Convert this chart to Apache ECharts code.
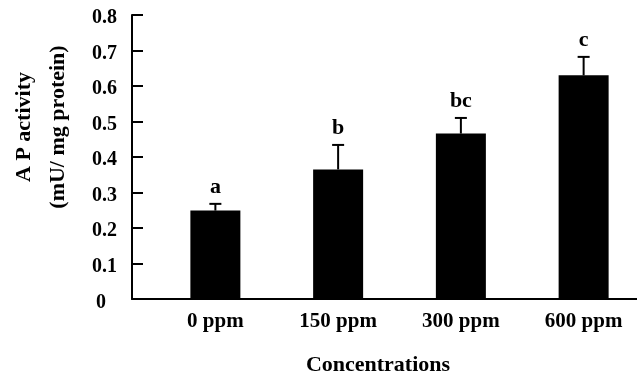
<!DOCTYPE html>
<html>
<head>
<meta charset="utf-8">
<script src="https://cdn.jsdelivr.net/npm/echarts@6/dist/echarts.min.js"></script>
<style>
    html, body { margin: 0; padding: 0; background: #fff; }
    #main { width: 637px; height: 376px; }
</style>
</head>
<body>
<div id="main"></div>
<script>
// data
var categories = ['0 ppm', '150 ppm', '300 ppm', '600 ppm'];
var means = [0.249, 0.365, 0.466, 0.630];
var errors = [0.019, 0.069, 0.044, 0.052];
var letters = ['a', 'b', 'bc', 'c'];

var serif = '"Liberation Serif", "Times New Roman", serif';

var chart = echarts.init(document.getElementById('main'));

var option = {
    animation: false,
    backgroundColor: '#fff',
    grid: [
        { left: 154, right: -8, top: 15, bottom: 77, outerBoundsMode: 'none' },
        { left: 132, right: 0, top: 15, bottom: 77, outerBoundsMode: 'none' }
    ],
    xAxis: [
        {
            type: 'category',
            gridIndex: 0,
            data: categories,
            axisLine: { show: false },
            axisTick: { show: false },
            axisLabel: {
                margin: 12,
                color: '#000',
                fontFamily: serif,
                fontWeight: 'bold',
                fontSize: 21
            }
        },
        {
            type: 'value',
            gridIndex: 1,
            min: 0,
            max: 1,
            name: 'Concentrations',
            nameLocation: 'middle',
            nameGap: 55,
            nameTextStyle: {
                color: '#000',
                fontFamily: serif,
                fontWeight: 'bold',
                fontSize: 22,
                padding: [0, 13, 0, 0]
            },
            axisLine: { show: true, lineStyle: { color: '#000', width: 2 } },
            axisTick: { show: false },
            axisLabel: { show: false },
            splitLine: { show: false }
        }
    ],
    yAxis: [
        {
            type: 'value',
            gridIndex: 0,
            min: 0,
            max: 0.8,
            interval: 0.1,
            offset: 22,
            name: 'A P activity\n(mU/ mg protein)',
            nameLocation: 'middle',
            nameGap: 57,
            nameTextStyle: {
                color: '#000',
                fontFamily: serif,
                fontWeight: 'bold',
                fontSize: 22,
                lineHeight: 34,
                padding: [0, 0, 0, 60]
            },
            axisLine: { show: true, lineStyle: { color: '#000', width: 2 } },
            axisTick: { show: true, inside: true, length: 11, lineStyle: { color: '#000', width: 2 } },
            axisLabel: {
                margin: 15,
                color: '#000',
                fontFamily: serif,
                fontWeight: 'bold',
                fontSize: 20,
                padding: [6, 0, 0, 0],
                formatter: function (v) {
                    return v === 0 ? '{z|0}' : String(v);
                },
                rich: {
                    z: {
                        color: '#000',
                        fontFamily: serif,
                        fontWeight: 'bold',
                        fontSize: 20,
                        padding: [2, 11, 0, 0]
                    }
                }
            },
            splitLine: { show: false }
        },
        {
            type: 'value',
            gridIndex: 1,
            show: false
        }
    ],
    series: [
        {
            type: 'bar',
            xAxisIndex: 0,
            yAxisIndex: 0,
            data: means,
            barWidth: 50,
            itemStyle: { color: '#000' }
        },
        {
            // error bars + significance letters
            type: 'custom',
            xAxisIndex: 0,
            yAxisIndex: 0,
            z: 5,
            data: means.map(function (m, i) { return [i, m, m + errors[i]]; }),
            renderItem: function (params, api) {
                var base = api.coord([api.value(0), api.value(1)]);
                var top = api.coord([api.value(0), api.value(2)]);
                var half = 6;
                return {
                    type: 'group',
                    children: [
                        {
                            type: 'line',
                            shape: { x1: base[0], y1: base[1], x2: top[0], y2: top[1] },
                            style: { stroke: '#000', lineWidth: 2 }
                        },
                        {
                            type: 'line',
                            shape: { x1: top[0] - half, y1: top[1], x2: top[0] + half, y2: top[1] },
                            style: { stroke: '#000', lineWidth: 2 }
                        },
                        {
                            type: 'text',
                            x: top[0],
                            y: top[1] - 6,
                            style: {
                                text: letters[params.dataIndex],
                                align: 'center',
                                verticalAlign: 'bottom',
                                fontFamily: serif,
                                fontWeight: 'bold',
                                fontSize: 22,
                                fill: '#000'
                            }
                        }
                    ]
                };
            }
        }
    ]
};

chart.setOption(option);
</script>
</body>
</html>
